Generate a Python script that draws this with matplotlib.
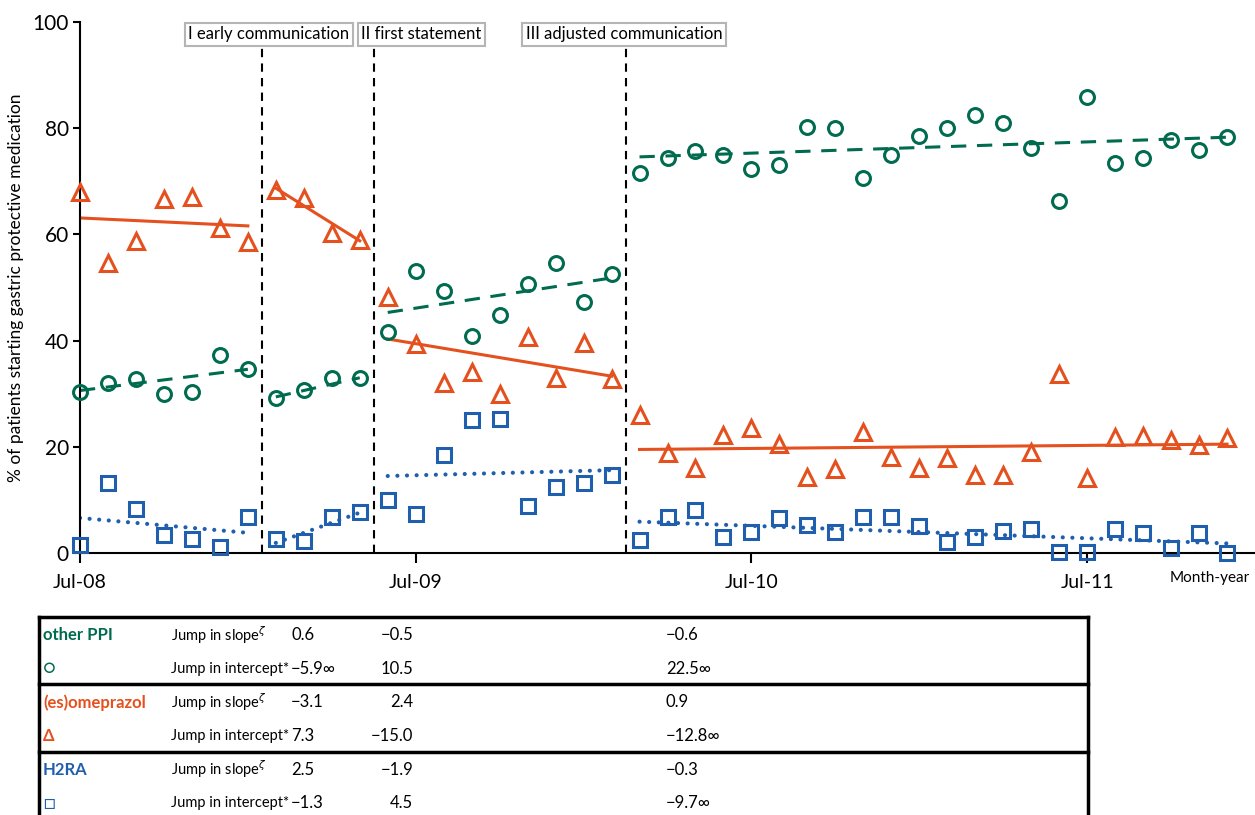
import matplotlib.pyplot as plt

plt.rcParams['font.family'] = ['Lato', 'DejaVu Sans']
plt.rcParams['mathtext.fontset'] = 'dejavusans'

GREEN = "#006b4f"
ORANGE = "#e4501e"
BLUE = "#1f5fae"

# months since Jul-08, one list per period
seg_months = [
    [0, 1, 2, 3, 4, 5, 6],
    [7, 8, 9, 10],
    [11, 12, 13, 14, 15, 16, 17, 18, 19],
    [20, 21, 22, 23, 24, 25, 26, 27, 28, 29, 30, 31, 32, 33, 34, 35, 36, 37, 38, 39, 40, 41],
]

other_ppi = [
    [30.3, 32.1, 32.8, 29.9, 30.3, 37.3, 34.6],
    [29.2, 30.7, 33.0, 32.9],
    [41.7, 53.2, 49.4, 40.9, 44.8, 50.6, 54.7, 47.3, 52.5],
    [71.5, 74.3, 75.7, 74.9, 72.3, 73.1, 80.2, 80.0, 70.6, 75.0, 78.6,
     80.0, 82.5, 80.9, 76.3, 66.3, 85.9, 73.4, 74.3, 77.8, 75.9, 78.3],
]
omeprazol = [
    [68.0, 54.6, 58.8, 66.7, 67.0, 61.2, 58.6],
    [68.3, 66.8, 60.2, 58.9],
    [48.3, 39.3, 32.0, 34.0, 29.9, 40.6, 32.9, 39.5, 32.8],
    [26.0, 18.9, 16.1, 22.2, 23.6, 20.5, 14.4, 15.9, 22.8, 18.1, 16.1,
     17.8, 14.6, 14.7, 19.1, 33.7, 14.1, 21.9, 22.0, 21.3, 20.3, 21.6],
]
h2ra = [
    [1.5, 13.2, 8.2, 3.3, 2.6, 1.2, 6.7],
    [2.6, 2.3, 6.8, 7.8],
    [9.9, 7.4, 18.5, 25.0, 25.2, 8.8, 12.4, 13.2, 14.6],
    [2.4, 6.8, 8.1, 3.0, 4.0, 6.5, 5.3, 4.0, 6.8, 6.8, 5.1,
     2.1, 3.0, 4.2, 4.5, 0.1, 0.1, 4.6, 3.7, 1.0, 3.8, 0.0],
]

# fitted trend lines: (start, end) value per period
ppi_trend = [(30.6, 34.6), (29.4, 33.0), (45.3, 51.8), (74.6, 78.3)]
ome_trend = [(63.1, 61.6), (68.7, 58.8), (40.3, 33.3), (19.5, 20.5)]
h2ra_trend = [(6.6, 3.8), (1.9, 7.6), (14.5, 15.6), (5.9, 1.8)]

breaks = [6.5, 10.5, 19.5]
break_labels = ["I early communication", "II first statement", "III adjusted communication"]
break_label_x = [6.75, 12.2, 19.45]

tick_months = [0, 12, 24, 36]
tick_labels = ["Jul-08", "Jul-09", "Jul-10", "Jul-11"]

table_groups = ["other PPI", "○", "(es)omeprazol", "Δ", "H2RA", "□"]
table_rows = ["Jump in slope$^{\\zeta}$", "Jump in intercept*"] * 3
col_period1 = ["0.6", "−5.9∞", "−3.1", "7.3", "2.5", "−1.3"]
col_period2 = ["−0.5", "10.5", "2.4", "−15.0", "−1.9", "4.5"]
col_period3 = ["−0.6", "22.5∞", "0.9", "−12.8∞", "−0.3", "−9.7∞"]

W, H = 1255, 815
fig = plt.figure(figsize=(W / 100, H / 100), dpi=100)
ax = fig.add_axes([80 / W, 1 - 553 / H, 1 - 80 / W, 531 / H])

# ---------- points + trends ----------
for i, months in enumerate(seg_months):
    x0, x1 = months[0], months[-1]
    ax.plot([x0, x1], list(ppi_trend[i]), color=GREEN, lw=2.2,
            dashes=(5, 3.5), zorder=2)
    ax.plot([x0, x1], list(ome_trend[i]), color=ORANGE, lw=2.2, zorder=2)
    ax.plot([x0, x1], list(h2ra_trend[i]), color=BLUE, lw=3,
            linestyle=(0, (0.01, 2.3)), dash_capstyle="round", zorder=2)

    ax.plot(months, other_ppi[i], "o", ms=10, mfc="none", mec=GREEN,
            mew=2.2, clip_on=False, zorder=3)
    ax.plot(months, omeprazol[i], "^", ms=12, mfc="none", mec=ORANGE,
            mew=2.2, clip_on=False, zorder=3)
    ax.plot(months, h2ra[i], "s", ms=10, mfc="none", mec=BLUE,
            mew=2.2, clip_on=False, zorder=3)

# ---------- period breaks ----------
for b in breaks:
    ax.plot([b, b], [0, 95.2], color="black", lw=1.5, dashes=(4, 3), zorder=1)

for lbl, bx in zip(break_labels, break_label_x):
    ax.text(bx, 97.7, lbl, ha="center", va="center", fontsize=12,
            bbox=dict(boxstyle="square,pad=0.2", fc="white", ec="#b5b5b5", lw=1.5))

# ---------- axes ----------
ax.set_xlim(0, 42)
ax.set_ylim(0, 100)
ax.set_yticks([0, 20, 40, 60, 80, 100])
ax.set_xticks(tick_months)
ax.set_xticklabels(tick_labels)
ax.tick_params(axis="y", labelsize=15, length=5, width=1.5, pad=3)
ax.tick_params(axis="x", labelsize=14, length=7, width=1.5, pad=8)
for side in ["top", "right"]:
    ax.spines[side].set_visible(False)
for side in ["left", "bottom"]:
    ax.spines[side].set_linewidth(1.5)
ax.set_ylabel("% of patients starting gastric protective medication", fontsize=12.5, labelpad=6)
ax.text(40.4, -4.8, "Month-year", ha="center", va="center", fontsize=11, clip_on=False)

# ---------- table below ----------
tab = fig.add_axes([0, 0, 1, 1], zorder=-1)
tab.set_xlim(0, W)
tab.set_ylim(H, 0)
tab.axis("off")

top, row_h = 617, 33.7
left, right = 39, 1088
tab.plot([left, right], [top, top], color="black", lw=2.5, solid_capstyle="projecting")
tab.plot([left, left], [top, H + 5], color="black", lw=2.5)
tab.plot([right, right], [top, H + 5], color="black", lw=2.5)
for k in [2, 4]:
    y = top + k * row_h
    tab.plot([left, right], [y, y], color="black", lw=2.5)

group_colors = [GREEN, GREEN, ORANGE, ORANGE, BLUE, BLUE]
for r in range(6):
    yc = top + (r + 0.5) * row_h + 1
    weight = "bold" if r in (0, 2, 3, 4) else "normal"
    size = 14 if r in (1, 5) else 12
    tab.text(43, yc, table_groups[r], color=group_colors[r], fontsize=size,
             fontweight=weight, ha="left", va="center")
    tab.text(171, yc, table_rows[r], fontsize=10.5, ha="left", va="center")
    tab.text(291, yc, col_period1[r], fontsize=12, ha="left", va="center")
    tab.text(413, yc, col_period2[r], fontsize=12, ha="right", va="center")
    tab.text(666, yc, col_period3[r], fontsize=12, ha="left", va="center")

fig.savefig("out.png", dpi=100)
